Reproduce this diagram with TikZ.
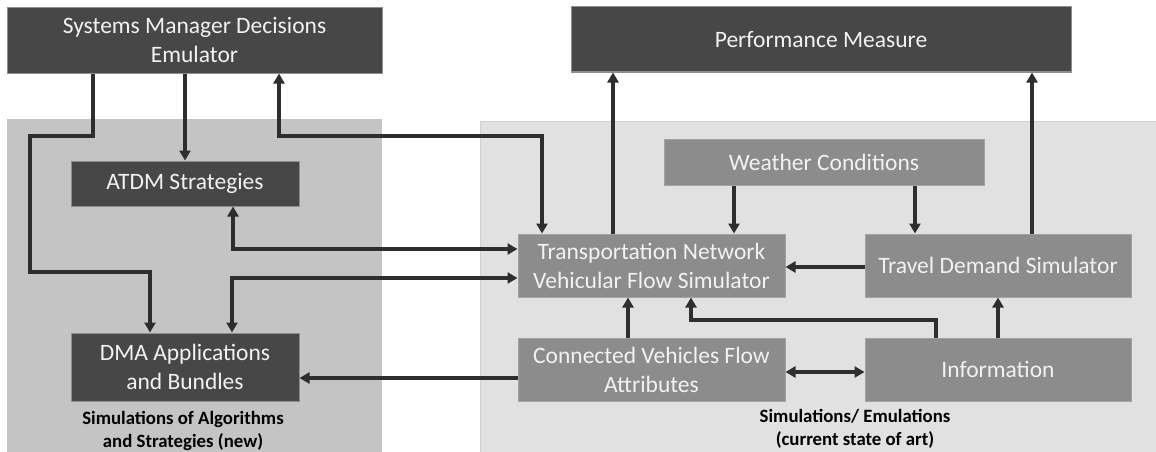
\documentclass[tikz,border=0pt]{standalone}
\usepackage{fontspec}
\setmainfont{Carlito}
\usetikzlibrary{arrows.meta}
\definecolor{dkfill}{HTML}{474747}
\definecolor{dkedge}{HTML}{8E8E8E}
\definecolor{mdfill}{HTML}{8C8C8C}
\definecolor{mdedge}{HTML}{A2A2A2}
\definecolor{leftpanel}{HTML}{C4C4C4}
\definecolor{rightpanel}{HTML}{E1E1E1}
\definecolor{rightedge}{HTML}{D0D0D0}
\definecolor{linec}{HTML}{2E2E2E}
\definecolor{boxtext}{HTML}{F2F2F2}
\tikzset{
  dkbox/.style={fill=dkfill, draw=dkedge, line width=1pt, text=boxtext, inner sep=0pt, align=center, font=\fontsize{23.5}{29}\selectfont},
  mdbox/.style={fill=mdfill, draw=mdedge, line width=1pt, text=boxtext, inner sep=0pt, align=center, font=\fontsize{23.5}{29}\selectfont},
  conn/.style={draw=linec, line width=3.2pt, -{Triangle[length=10pt,width=11pt]}},
  conntwo/.style={draw=linec, line width=3.2pt, {Triangle[length=10pt,width=11pt]}-{Triangle[length=10pt,width=11pt]}},
  captext/.style={text=black, inner sep=0pt, align=center, font=\fontsize{18.8}{23}\selectfont\bfseries}
}
\begin{document}
\begin{tikzpicture}[x=1pt,y=-1pt]
\useasboundingbox (0,0) rectangle (1156,452);
\fill[white] (0,0) rectangle (1156,452);
% panels
\fill[leftpanel] (7,119) rectangle (382,452);
\filldraw[fill=rightpanel, draw=rightedge, line width=1pt] (480,121) rectangle (1160,456);
% boxes
\node[dkbox, minimum width=375pt, minimum height=65pt] (smde) at (194.5,40.5) {Systems Manager Decisions\\Emulator};
\node[dkbox, minimum width=500pt, minimum height=65pt] (perf) at (821,39.5) {Performance Measure};
\node[dkbox, minimum width=228pt, minimum height=45pt] (atdm) at (185,183.5) {ATDM Strategies};
\node[dkbox, minimum width=228pt, minimum height=68pt] (dma) at (185,367) {DMA Applications\\and Bundles};
\node[mdbox, minimum width=320pt, minimum height=46pt] (weather) at (824,162) {Weather Conditions};
\node[mdbox, minimum width=267pt, minimum height=63pt] (tn) at (651.5,265.5) {Transportation Network\\Vehicular Flow Simulator};
\node[mdbox, minimum width=266pt, minimum height=63pt] (td) at (998,265.5) {Travel Demand Simulator};
\node[mdbox, minimum width=267pt, minimum height=63pt] (cv) at (651.5,369.5) {Connected Vehicles Flow\\Attributes};
\node[mdbox, minimum width=266pt, minimum height=63pt] (info) at (998,369.5) {Information};
% captions
\node[captext] (capl) at (183,430.5) {Simulations of Algorithms\\and Strategies (new)};
\node[captext] (capr) at (855,428.5) {Simulations/ Emulations\\(current state of art)};
% connector corners
\coordinate (c1) at (93,136);
\coordinate (c2) at (30,136);
\coordinate (c3) at (30,272);
\coordinate (c4) at (150,272);
\coordinate (c5) at (279,136);
\coordinate (c6) at (542,136);
\coordinate (c7) at (233,249);
\coordinate (c8) at (232,278);
\coordinate (c9) at (0,378);
\coordinate (c10) at (613,0);
\coordinate (c11) at (1032,0);
\coordinate (c12) at (734,0);
\coordinate (c13) at (915,0);
\coordinate (c14) at (0,267);
\coordinate (c15) at (628,0);
\coordinate (c16) at (936,320);
\coordinate (c17) at (691,320);
\coordinate (c18) at (998,0);
\coordinate (c19) at (0,372);
% connectors
\draw[conn] (smde.south -| c1) -- (c1) -- (c2) -- (c3) -- (c4) -- (c4 |- dma.north);
\draw[conn] (smde.south -| atdm.north) -- (atdm.north);
\draw[conntwo] (smde.south -| c5) -- (c5) -- (c6) -- (c6 |- tn.north);
\draw[conntwo] (atdm.south -| c7) -- (c7) -- (c7 -| tn.west);
\draw[conntwo] (dma.north -| c8) -- (c8) -- (c8 -| tn.west);
\draw[conn] (cv.west |- c9) -- (dma.east |- c9);
\draw[conn] (tn.north -| c10) -- (perf.south -| c10);
\draw[conn] (td.north -| c11) -- (perf.south -| c11);
\draw[conn] (weather.south -| c12) -- (tn.north -| c12);
\draw[conn] (weather.south -| c13) -- (td.north -| c13);
\draw[conn] (td.west |- c14) -- (tn.east |- c14);
\draw[conn] (cv.north -| c15) -- (tn.south -| c15);
\draw[conn] (info.north -| c16) -- (c16) -- (c17) -- (c17 |- tn.south);
\draw[conn] (info.north -| c18) -- (td.south -| c18);
\draw[conntwo] (cv.east |- c19) -- (info.west |- c19);
\end{tikzpicture}
\end{document}
